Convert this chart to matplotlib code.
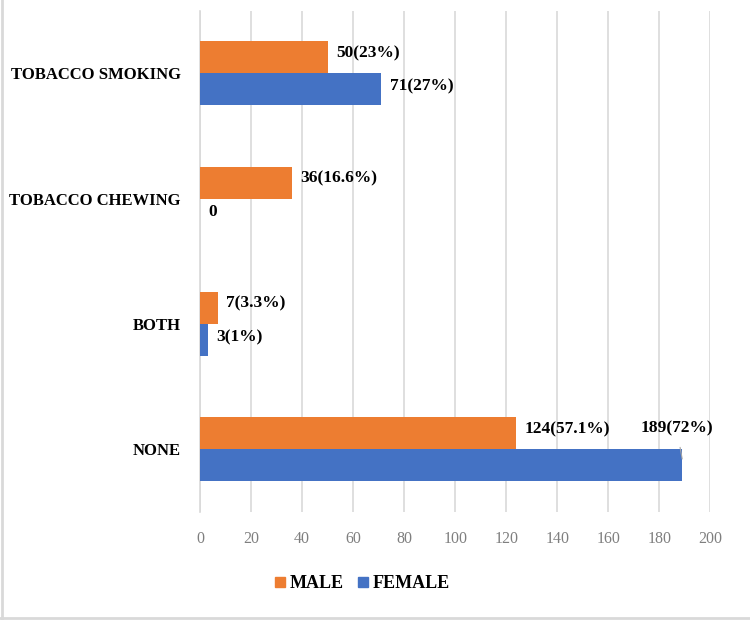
import numpy as np
import matplotlib
matplotlib.use("Agg")
from matplotlib import pyplot as plt
from matplotlib.lines import Line2D

plt.rcParams['font.family'] = ['Liberation Serif', 'DejaVu Serif']

categories = ["TOBACCO SMOKING", "TOBACCO CHEWING", "BOTH", "NONE"]
male = [50, 36, 7, 124]
female = [71, 0, 3, 189]
male_labels = ["50(23%)", "36(16.6%)", "7(3.3%)", "124(57.1%)"]
female_labels = ["71(27%)", "0", "3(1%)", "189(72%)"]

orange = "#ED7D31"
blue = "#4472C4"

fig = plt.figure(figsize=(7.5, 6.22), dpi=100)
ax = fig.add_axes([0.267, 0.177, 0.68, 0.806])

y = np.arange(len(categories))
h = 0.255
ax.barh(y - h / 2, male, height=h, color=orange, label="MALE", zorder=3)
ax.barh(y + h / 2, female, height=h, color=blue, label="FEMALE", zorder=3)

ax.set_xlim(0, 200)
ax.set_ylim(3.5, -0.5)
ax.set_xticks(np.arange(0, 201, 20))
ax.set_yticks(y)
ax.set_yticklabels(categories, fontsize=12, fontweight="bold")
ax.tick_params(axis="y", length=0, pad=14)
ax.tick_params(axis="x", length=0, pad=14, labelsize=11.5, labelcolor="#7f7f7f")
ax.grid(axis="x", color="#d9d9d9", linewidth=1.2, zorder=0)
for s in ["top", "right", "bottom"]:
    ax.spines[s].set_visible(False)
ax.spines["left"].set_color("#d9d9d9")
ax.spines["left"].set_linewidth(1.2)

for i in range(len(categories)):
    ax.annotate(male_labels[i], (male[i], y[i] - h / 2), xytext=(6, 3),
                textcoords="offset points", va="center", ha="left",
                fontsize=12.5, fontweight="bold")
    if i == 3:
        ax.annotate(female_labels[i], (female[i], y[i] + h / 2 - 0.05),
                    xytext=(-4, 22), textcoords="offset points", va="center",
                    ha="center", fontsize=12.5, fontweight="bold",
                    arrowprops=dict(arrowstyle="-", color="#a6a6a6", lw=0.8,
                                    shrinkA=6, shrinkB=0))
    else:
        ax.annotate(female_labels[i], (female[i], y[i] + h / 2), xytext=(6, 2),
                    textcoords="offset points", va="center", ha="left",
                    fontsize=12.5, fontweight="bold")

handles = [Line2D([], [], marker="s", linestyle="none", color=orange, markersize=7),
           Line2D([], [], marker="s", linestyle="none", color=blue, markersize=7)]
fig.legend(handles, ["MALE", "FEMALE"], loc="center", bbox_to_anchor=(0.483, 0.062),
           ncol=2, frameon=False, handlelength=0.6, handletextpad=0.2,
           columnspacing=0.8, prop={"weight": "bold", "size": 13})

fig.add_artist(Line2D([0.002, 0.002], [0.006, 1], color="#d9d9d9", lw=2,
                      transform=fig.transFigure))
fig.add_artist(Line2D([0, 1], [0.006, 0.006], color="#d9d9d9", lw=2,
                      transform=fig.transFigure))

fig.savefig("out.png", dpi=100)
